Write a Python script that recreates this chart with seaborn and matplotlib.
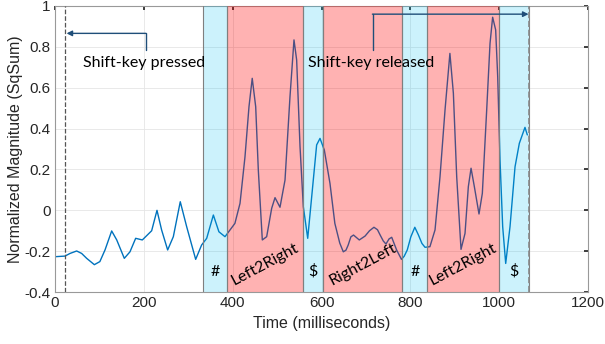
import numpy as np
import matplotlib
matplotlib.use("Agg")
import matplotlib.pyplot as plt
import seaborn as sns

# Traced signal (time in ms, normalized magnitude)
time_ms = [0, 22.5, 33.8, 48.8, 60, 71.3, 88.6, 101, 112.6, 127.6, 139, 156,
           168.8, 181.6, 196.6, 217.6, 229.6, 240, 253.6, 266.4, 282, 296.4,
           316.7, 330, 341.5, 356.5, 369, 382.7, 405, 416.5, 427.7, 436.7, 444,
           451.8, 457.7, 466.7, 476.5, 487.8, 495.3, 506.5, 517.8, 529, 538,
           544, 551.6, 559, 568.9, 579.3, 589, 596.6, 606.3, 619, 630, 641, 649,
           655, 660, 666, 672, 685, 698, 708, 718, 726, 732, 739, 745, 752, 758,
           769, 780, 786, 793, 801, 810, 818, 826, 833, 844, 855.5, 866.7, 878,
           889, 896.8, 904.3, 914, 923, 930.5, 936.6, 944, 954.5, 962, 971.8,
           979.3, 985.2, 992, 996.6, 1001.8, 1007.8, 1014.6, 1024.3, 1035.6,
           1045.3, 1058, 1063.3]
magnitude = [-0.227, -0.224, -0.211, -0.199, -0.211, -0.235, -0.266, -0.251,
             -0.194, -0.101, -0.145, -0.235, -0.203, -0.137, -0.145, -0.10,
             0.0, -0.096, -0.194, -0.129, 0.042, -0.08, -0.24, -0.17, -0.137,
             -0.023, -0.105, -0.129, -0.064, 0.034, 0.262, 0.507, 0.646, 0.507,
             0.197, -0.145, -0.129, 0.01, 0.062, 0.015, 0.148, 0.556, 0.834,
             0.736, 0.311, 0.018, -0.137, 0.099, 0.32, 0.352, 0.295, 0.132,
             -0.064, -0.16, -0.203, -0.195, -0.17, -0.13, -0.121, -0.145,
             -0.126, -0.10, -0.083, -0.095, -0.121, -0.15, -0.165, -0.14,
             -0.132, -0.194, -0.24, -0.225, -0.194, -0.13, -0.083, -0.12,
             -0.162, -0.181, -0.178, -0.096, 0.164, 0.491, 0.768, 0.573, 0.164,
             -0.191, -0.113, 0.116, 0.206, 0.116, -0.018, 0.083, 0.491, 0.817,
             0.945, 0.883, 0.654, 0.246, -0.08, -0.26, -0.08, 0.213, 0.328,
             0.406, 0.369]

# Key segments: start, end, kind, label
seg_start = [334, 388, 558, 604, 782, 838, 999]
seg_end = [388, 558, 604, 782, 838, 999, 1068]
seg_kind = ["key", "swipe", "key", "swipe", "key", "swipe", "key"]
seg_label = ["#", "Left2Right", "$", "Right2Left", "#", "Left2Right", "$"]

shift_press = 22
shift_release = 1068

sns.set_theme(style="whitegrid")
plt.rcParams['font.family'] = ['Liberation Sans', 'DejaVu Sans']

fig = plt.figure(figsize=(6.05, 3.44), dpi=100)
ax = fig.add_axes([0.0909, 0.151, 0.8811, 0.8316])

blue_line = "#0072BD"
sns.lineplot(x=time_ms, y=magnitude, ax=ax, color=blue_line, linewidth=1.0,
             zorder=2, estimator=None, sort=False)

fills = {"key": ("#00BEF0", 0.2), "swipe": ("#FF0000", 0.3)}
label_font = ["Lato", "DejaVu Sans"]
for s, e, k, lab in zip(seg_start, seg_end, seg_kind, seg_label):
    col, a = fills[k]
    ax.axvspan(s, e, facecolor=col, alpha=a, edgecolor="none", zorder=3)
    ax.axvline(s, color="#7f7f7f", linewidth=0.8, zorder=3)
    ax.axvline(e, color="#7f7f7f", linewidth=0.8, zorder=3)
    mid = (s + e) / 2
    if k == "key":
        ax.text(mid, -0.30, lab, ha="center", va="center", fontsize=11.5,
                family=label_font, color="black", zorder=5)
    else:
        ax.text(mid, -0.265, lab, ha="center", va="center", fontsize=11.5,
                rotation=28, family=label_font, color="black", zorder=5)

ax.axvline(shift_press, color="#555555", linestyle="--", linewidth=0.9, zorder=4)
ax.axvline(shift_release, color="#888888", linestyle="--", linewidth=1.2, zorder=4)

arrow_col = "#1F4E79"
ax.plot([204, 204], [0.785, 0.866], color=arrow_col, linewidth=1.0, zorder=5)
ax.annotate("", xy=(26, 0.866), xytext=(204.5, 0.866),
            arrowprops=dict(arrowstyle="-|>", color=arrow_col, lw=1.0,
                            mutation_scale=8, shrinkA=0, shrinkB=0), zorder=5)
ax.plot([715, 715], [0.785, 0.96], color=arrow_col, linewidth=1.0, zorder=5)
ax.annotate("", xy=(1066, 0.96), xytext=(714.5, 0.96),
            arrowprops=dict(arrowstyle="-|>", color=arrow_col, lw=1.0,
                            mutation_scale=8, shrinkA=0, shrinkB=0), zorder=5)

ax.text(63, 0.72, "Shift-key pressed", ha="left", va="center", fontsize=11.5,
        family=label_font, color="black", zorder=5)
ax.text(570, 0.72, "Shift-key released", ha="left", va="center", fontsize=11.5,
        family=label_font, color="black", zorder=5)

ax.set_xlim(0, 1200)
ax.set_ylim(-0.4, 1)
ax.set_xticks(np.arange(0, 1201, 200))
ax.set_yticks(np.arange(-0.4, 1.01, 0.2))
ax.set_yticklabels(["-0.4", "-0.2", "0", "0.2", "0.4", "0.6", "0.8", "1"])
ax.set_xlabel("Time (milliseconds)", fontsize=11.5, color="#262626", labelpad=4)
ax.set_ylabel("Normalized Magnitude (SqSum)", fontsize=11.5, color="#262626",
              labelpad=1)
ax.tick_params(axis="both", labelsize=11, colors="#262626", direction="in",
               length=3, top=True, right=True, pad=3)
ax.grid(True, color="#e5e5e5", linewidth=0.6)
ax.set_facecolor("white")
for sp in ax.spines.values():
    sp.set_color("#999999")
    sp.set_linewidth(0.8)

fig.savefig("out.png", dpi=100)
